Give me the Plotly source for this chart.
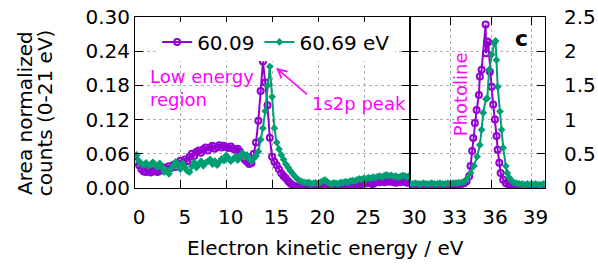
import plotly.graph_objects as go

# ---------------- data ----------------
# left panel: energy grid (eV), 0.25 eV steps
energy_left = [round(0.2 + 0.25 * i, 2) for i in range(121)]

counts_6009_left = [
    0.046, 0.040, 0.033, 0.029, 0.028, 0.031, 0.027, 0.029, 0.031, 0.028,
    0.030, 0.033, 0.036, 0.033, 0.038, 0.035, 0.041, 0.037, 0.043, 0.048,
    0.044, 0.050, 0.047, 0.055, 0.060, 0.056, 0.063, 0.066, 0.062, 0.068,
    0.071, 0.066, 0.071, 0.074, 0.069, 0.072, 0.075, 0.071, 0.074, 0.072,
    0.070, 0.073, 0.069, 0.067, 0.069, 0.064, 0.058, 0.050, 0.046, 0.042,
    0.044, 0.060, 0.080, 0.118, 0.170, 0.222, 0.185, 0.145, 0.088, 0.055,
    0.046, 0.040, 0.033, 0.026, 0.021, 0.017, 0.012, 0.008, 0.005, 0.003,
    0.002, 0.001, 0.002, 0.000, 0.001, 0.003, 0.001, 0.000, 0.002, 0.001,
    0.003, 0.002, 0.005, 0.002, 0.000, 0.002, 0.001, 0.003, 0.000, 0.002,
    0.004, 0.003, 0.005, 0.006, 0.004, 0.007, 0.006, 0.008, 0.007, 0.009,
    0.008, 0.010, 0.008, 0.007, 0.009, 0.011, 0.010, 0.012, 0.010, 0.013,
    0.011, 0.012, 0.010, 0.009, 0.011, 0.010, 0.012, 0.011, 0.009, 0.012,
    0.013,
]

counts_6069_left = [
    0.058, 0.047, 0.042, 0.040, 0.044, 0.039, 0.041, 0.045, 0.040, 0.037,
    0.043, 0.036, 0.028, 0.031, 0.025, 0.034, 0.040, 0.046, 0.038, 0.033,
    0.043, 0.036, 0.030, 0.028, 0.038, 0.045, 0.036, 0.041, 0.047, 0.039,
    0.044, 0.047, 0.050, 0.042, 0.047, 0.040, 0.046, 0.051, 0.048, 0.057,
    0.052, 0.047, 0.051, 0.055, 0.049, 0.056, 0.061, 0.055, 0.058, 0.051,
    0.047, 0.052, 0.056, 0.064, 0.085, 0.105, 0.135, 0.180, 0.213, 0.160,
    0.105, 0.080, 0.068, 0.058, 0.050, 0.042, 0.036, 0.030, 0.025, 0.020,
    0.016, 0.013, 0.011, 0.010, 0.009, 0.010, 0.007, 0.008, 0.009, 0.007,
    0.010, 0.012, 0.014, 0.011, 0.008, 0.007, 0.009, 0.008, 0.007, 0.010,
    0.009, 0.011, 0.010, 0.012, 0.013, 0.012, 0.014, 0.016, 0.015, 0.017,
    0.016, 0.018, 0.017, 0.019, 0.018, 0.020, 0.021, 0.019, 0.022, 0.023,
    0.021, 0.022, 0.020, 0.021, 0.019, 0.020, 0.022, 0.021, 0.019, 0.022,
    0.024,
]

# right panel (photoline)
energy_6009_right = [
    30.0, 30.2, 30.4, 30.6, 30.8, 31.0, 31.2, 31.4, 31.6, 31.8,
    32.0, 32.2, 32.4, 32.6, 32.8, 33.0, 33.2, 33.4, 33.6, 33.8,
    34.0, 34.19, 34.38, 34.48, 34.6, 34.68, 34.8, 34.93, 35.1, 35.17,
    35.3, 35.6, 35.62, 35.73, 35.79, 35.92, 36.04, 36.16, 36.29, 36.41,
    36.49, 36.61, 36.71, 36.9, 37.1, 37.3, 37.5, 37.7, 37.9, 38.1,
    38.3, 38.5, 38.7, 38.9, 39.1, 39.3, 39.5, 39.7, 39.9,
]
counts_6009_right = [
    0.03, 0.02, 0.03, 0.03, 0.02, 0.03, 0.03, 0.03, 0.02, 0.03,
    0.03, 0.04, 0.03, 0.04, 0.04, 0.04, 0.05, 0.05, 0.06, 0.06,
    0.07, 0.10, 0.17, 0.32, 0.54, 0.73, 0.95, 1.14, 1.36, 1.63,
    1.73, 2.39, 1.97, 2.14, 2.13, 1.70, 1.48, 1.22, 1.00, 0.76,
    0.56, 0.37, 0.22, 0.12, 0.07, 0.05, 0.04, 0.04, 0.03, 0.03,
    0.03, 0.02, 0.03, 0.03, 0.02, 0.03, 0.02, 0.03, 0.03,
]

energy_6069_right = [
    30.0, 30.2, 30.4, 30.6, 30.8, 31.0, 31.2, 31.4, 31.6, 31.8,
    32.0, 32.2, 32.4, 32.6, 32.8, 33.0, 33.2, 33.4, 33.6, 33.8,
    34.0, 34.2, 34.48, 34.73, 34.97, 35.17, 35.3, 35.42, 35.62, 35.72,
    35.86, 36.05, 36.24, 36.34, 36.4, 36.49, 36.66, 36.78, 36.9, 37.1,
    37.2, 37.35, 37.5, 37.7, 37.9, 38.1, 38.3, 38.5, 38.7, 38.9,
    39.1, 39.3, 39.5, 39.7, 39.9,
]
counts_6069_right = [
    0.07, 0.06, 0.07, 0.06, 0.06, 0.07, 0.06, 0.06, 0.07, 0.06,
    0.06, 0.07, 0.06, 0.06, 0.07, 0.06, 0.07, 0.07, 0.08, 0.08,
    0.09, 0.13, 0.22, 0.32, 0.46, 0.63, 0.85, 1.10, 1.30, 1.31,
    1.73, 1.95, 2.12, 2.15, 1.87, 1.48, 1.12, 0.85, 0.59, 0.32,
    0.22, 0.15, 0.11, 0.08, 0.07, 0.06, 0.06, 0.05, 0.06, 0.05,
    0.05, 0.06, 0.05, 0.05, 0.06,
]

series_names = ["60.09", "60.69 eV"]
left_ticks = [0, 5, 10, 15, 20, 25]
right_ticks = [30, 33, 36, 39]

# ---------------- styling ----------------
PURPLE = "#9400D3"
GREEN = "#009E73"
MAGENTA = "#FF00FF"
FONT = "DejaVu Sans"

fig = go.Figure()

purple_marker = dict(symbol="circle-open", size=6, color=PURPLE, line=dict(width=2, color=PURPLE))
green_marker = dict(symbol="diamond", size=6, color=GREEN)

fig.add_trace(go.Scatter(x=energy_left, y=counts_6009_left, mode="lines+markers",
                         name=series_names[0], legendgroup="a",
                         line=dict(color=PURPLE, width=2), marker=purple_marker,
                         xaxis="x", yaxis="y"))
fig.add_trace(go.Scatter(x=energy_left, y=counts_6069_left, mode="lines+markers",
                         name=series_names[1], legendgroup="b",
                         line=dict(color=GREEN, width=2), marker=green_marker,
                         xaxis="x", yaxis="y"))
fig.add_trace(go.Scatter(x=energy_6009_right, y=counts_6009_right, mode="lines+markers",
                         name=series_names[0], legendgroup="a", showlegend=False,
                         line=dict(color=PURPLE, width=2), marker=purple_marker,
                         xaxis="x2", yaxis="y2"))
fig.add_trace(go.Scatter(x=energy_6069_right, y=counts_6069_right, mode="lines+markers",
                         name=series_names[1], legendgroup="b", showlegend=False,
                         line=dict(color=GREEN, width=2), marker=green_marker,
                         xaxis="x2", yaxis="y2"))

split = 0.671
axis_common = dict(showline=True, linecolor="black", linewidth=1, mirror="ticks",
                   ticks="inside", ticklen=8, tickcolor="black", tickwidth=1,
                   showgrid=True, gridcolor="#b0b0b0", griddash="dot", gridwidth=1,
                   zeroline=False, automargin=False,
                   tickfont=dict(family=FONT, size=20, color="black"))

fig.update_layout(
    width=598, height=268,
    margin=dict(l=135, r=53, t=17, b=80, autoexpand=False),
    paper_bgcolor="white", plot_bgcolor="white",
    font=dict(family=FONT, size=20, color="black"),
    showlegend=True,
    legend=dict(orientation="h", x=0.054, y=0.968, xanchor="left", yanchor="top",
                bgcolor="white", borderwidth=0, font=dict(family=FONT, size=20),
                itemwidth=30, tracegroupgap=0),
    xaxis=dict(domain=[0, split], range=[0, 30], anchor="y", tickvals=left_ticks,
               ticklabelshift=4, ticklabelstandoff=11, **axis_common),
    yaxis=dict(domain=[0, 1], range=[0, 0.30], anchor="x",
               tickvals=[0, 0.06, 0.12, 0.18, 0.24, 0.30], tickformat=".2f",
               **axis_common),
    xaxis2=dict(domain=[split, 1], range=[30, 40], anchor="y2", tickvals=right_ticks,
                ticklabelshift=4, ticklabelstandoff=11, **axis_common),
    yaxis2=dict(domain=[0, 1], range=[0, 2.5], anchor="x2", side="right",
                tickvals=[0, 0.5, 1, 1.5, 2, 2.5], ticktext=["0", "0.5", "1", "1.5", "2", "2.5"],
                ticklabelstandoff=14, **axis_common),
)

ann = []
ann.append(dict(text="Area normalized", xref="paper", yref="paper", x=-0.268, y=0.44,
                textangle=-90, showarrow=False, xanchor="center", yanchor="middle",
                font=dict(family=FONT, size=20, color="black")))
ann.append(dict(text="counts (0-21 eV)", xref="paper", yref="paper", x=-0.221, y=0.44,
                textangle=-90, showarrow=False, xanchor="center", yanchor="middle",
                font=dict(family=FONT, size=20, color="black")))
ann.append(dict(text="Electron kinetic energy / eV", xref="paper", yref="paper",
                x=0.464, y=-0.353, showarrow=False, xanchor="center", yanchor="middle",
                font=dict(family=FONT, size=20, color="black")))
ann.append(dict(text="Low energy<br>region", xref="paper", yref="paper", x=0.0305, y=0.587,
                showarrow=False, xanchor="left", yanchor="middle", align="left",
                font=dict(family=FONT, size=18, color=MAGENTA)))
ann.append(dict(text="1s2p peak", xref="paper", yref="paper", x=0.426, y=0.4927,
                showarrow=False, xanchor="left", yanchor="middle",
                font=dict(family=FONT, size=18, color=MAGENTA)))
ann.append(dict(text="", xref="x", yref="y", x=15.38, y=0.211, ax=18.92, ay=0.162,
                axref="x", ayref="y", showarrow=True, arrowhead=5, arrowsize=1.2,
                arrowwidth=1.5, arrowcolor=MAGENTA, standoff=0, startstandoff=0))
ann.append(dict(text="Photoline", xref="x2", yref="y2", x=33.7, y=1.37, textangle=-90,
                showarrow=False, xanchor="center", yanchor="middle",
                font=dict(family=FONT, size=18, color=MAGENTA)))
ann.append(dict(text="<b>c</b>", xref="x2", yref="y2", x=38.29, y=2.19,
                showarrow=False, xanchor="center", yanchor="middle",
                font=dict(family=FONT, size=22, color="black")))
fig.update_layout(annotations=ann)

# remove the browser's default 8px page margin so the figure sits at the page origin
fig.write_html("out.html", config={"displayModeBar": False},
               post_script="document.body.style.margin='0';")
